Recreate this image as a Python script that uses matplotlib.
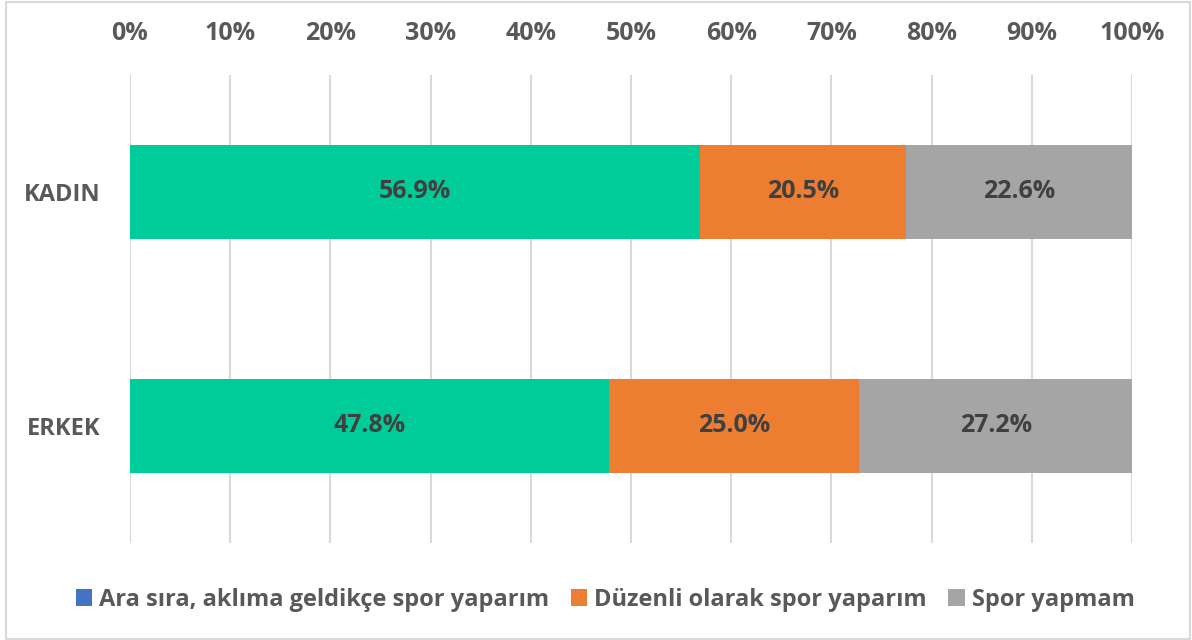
import matplotlib.pyplot as plt
from matplotlib.patches import Patch, Rectangle
import numpy as np

plt.rcParams['font.family'] = ['Open Sans', 'DejaVu Sans']
plt.rcParams['font.weight'] = 'bold'

groups = ['ERKEK', 'KADIN']
series = ['Ara sıra, aklıma geldikçe spor yaparım', 'Düzenli olarak spor yaparım', 'Spor yapmam']
values = {
    'Ara sıra, aklıma geldikçe spor yaparım': [47.8, 56.9],
    'Düzenli olarak spor yaparım': [25.0, 20.5],
    'Spor yapmam': [27.2, 22.6],
}
bar_colors = ['#00CC99', '#ED7D31', '#A5A5A5']
legend_colors = ['#4472C4', '#ED7D31', '#A5A5A5']
xticks = np.arange(0, 101, 10)

fig = plt.figure(figsize=(11.92, 6.4), dpi=100)
ax = fig.add_axes([130 / 1192, 1 - 543 / 640, 1002 / 1192, 468 / 640])

y = np.arange(len(groups))
left = np.zeros(len(groups))
for name, col in zip(series, bar_colors):
    vals = np.array(values[name])
    ax.barh(y, vals, left=left, height=0.4, color=col, zorder=2)
    for yi, l, v in zip(y, left, vals):
        ax.text(l + v / 2, yi, f'{v:.1f}%', ha='center', va='center',
                fontsize=18, fontweight='bold', color='#404040', zorder=3)
    left += vals

ax.set_xlim(0, 100)
ax.set_ylim(-0.5, 1.5)
ax.set_xticks(xticks)
ax.set_xticklabels([f'{t}%' for t in xticks])
ax.set_yticks(y)
ax.set_yticklabels(groups)
ax.xaxis.tick_top()
ax.tick_params(axis='x', length=0, pad=21, labelsize=18, labelcolor='#595959')
ax.tick_params(axis='y', length=0, pad=21.5, labelsize=17, labelcolor='#595959')
ax.grid(axis='x', color='#D9D9D9', linewidth=1.5, zorder=0)
for s in ax.spines.values():
    s.set_visible(False)

# legend swatch for first series is blue in the original, even though the bars are green
handles = [Patch(facecolor=c, edgecolor='none') for c in legend_colors]
fig.legend(handles, series, loc='center', bbox_to_anchor=(605 / 1192, 1 - 600 / 640), ncol=3,
           frameon=False, fontsize=17, labelcolor='#595959', handlelength=0.7,
           handleheight=0.7, handletextpad=0.3, columnspacing=0.9)

fig.patches.append(Rectangle((6 / 1192, 1 / 640), 1184 / 1192, 637 / 640,
                             transform=fig.transFigure, fill=False,
                             edgecolor='#D9D9D9', linewidth=1.5))

fig.savefig('out.png', dpi=100)
